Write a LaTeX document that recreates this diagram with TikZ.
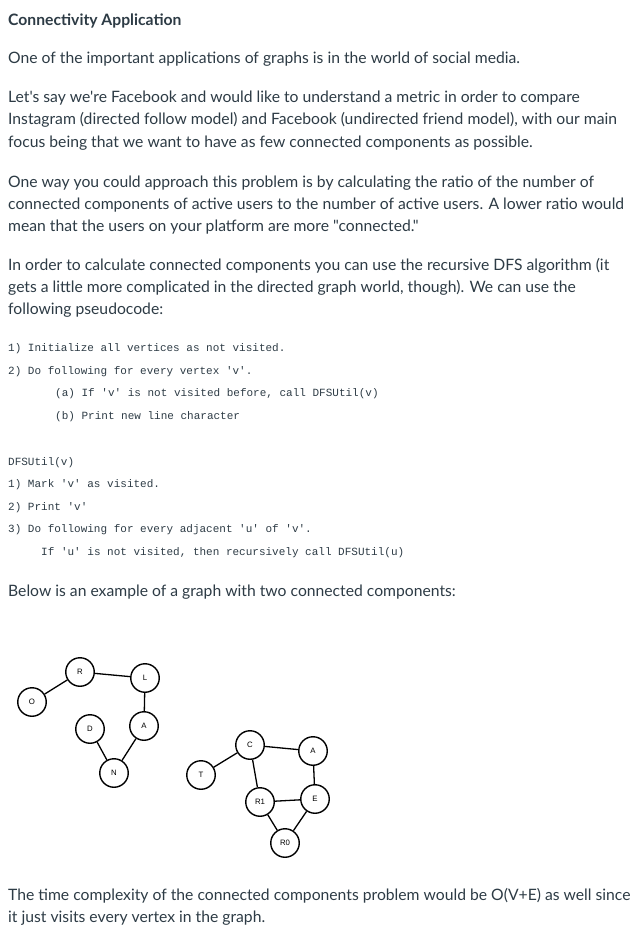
\documentclass[tikz,border=0pt]{standalone}
\usepackage{fontspec}
\setmainfont{Lato}[Ligatures=TeXOff]
\setmonofont{Liberation Mono}
\newfontfamily\vertexfont{Liberation Sans}
\definecolor{ink}{HTML}{2D3B45}

\begin{document}
\begin{tikzpicture}[x=1pt,y=-1pt,
  txt/.style={anchor=base west, inner sep=0pt, text=ink, font=\fontsize{15.7}{18}\selectfont},
  code/.style={anchor=base west, inner sep=0pt, text=ink, font=\ttfamily\fontsize{11}{13}\selectfont},
  vert/.style={draw, circle, line width=1.4pt, minimum size=28.5pt, inner sep=0pt, font=\vertexfont\fontsize{7.8}{9}\selectfont},
  link/.style={line width=1.3pt}]
  \useasboundingbox (0,0) rectangle (638,936);

  % text
  \node[txt, font=\bfseries\fontsize{15.7}{18}\selectfont] (title) at (8,26) {Connectivity Application};
  \node[txt] (p1) at (8,64) {One of the important applications of graphs is in the world of social media.};
  \node[txt] (p2a) at (8,103) {Let's say we're Facebook and would like to understand a metric in order to compare};
  \node[txt] (p2b) at (8,125) {Instagram (directed follow model) and Facebook (undirected friend model), with our main};
  \node[txt] (p2c) at (8,148) {focus being that we want to have as few connected components as possible.};
  \node[txt] (p3a) at (8,187) {One way you could approach this problem is by calculating the ratio of the number of};
  \node[txt] (p3b) at (8,209) {connected components of active users to the number of active users. A lower ratio would};
  \node[txt] (p3c) at (8,231) {mean that the users on your platform are more "connected."};
  \node[txt] (p4a) at (8,270) {In order to calculate connected components you can use the recursive DFS algorithm (it};
  \node[txt] (p4b) at (8,292) {gets a little more complicated in the directed graph world, though). We can use the};
  \node[txt] (p4c) at (8,314) {following pseudocode:};

  % pseudocode
  \node[code] (c1) at (8,351) {1) Initialize all vertices as not visited.};
  \node[code] (c2) at (8,374) {2) Do following for every vertex 'v'.};
  \node[code] (c3) at (55,396) {(a) If 'v' is not visited before, call DFSUtil(v)};
  \node[code] (c4) at (55,419) {(b) Print new line character};
  \node[code] (d0) at (8,465) {DFSUtil(v)};
  \node[code] (d1) at (8,487) {1) Mark 'v' as visited.};
  \node[code] (d2) at (8,510) {2) Print 'v'};
  \node[code] (d3) at (8,532) {3) Do following for every adjacent 'u' of 'v'.};
  \node[code] (d4) at (41,555) {If 'u' is not visited, then recursively call DFSUtil(u)};

  \node[txt] (p5) at (8,596) {Below is an example of a graph with two connected components:};

  % first component
  \node[vert] (R) at (80,672) {R};
  \node[vert] (L) at (145,678) {L};
  \node[vert] (O) at (32,702) {O};
  \node[vert] (D) at (90,729) {D};
  \node[vert] (A) at (144,726) {A};
  \node[vert] (N) at (114,773) {N};
  \draw[link] (O) -- (R);
  \draw[link] (R) -- (L);
  \draw[link] (L) -- (A);
  \draw[link] (A) -- (N);
  \draw[link] (D) -- (N);

  % second component
  \node[vert] (C) at (250,745) {C};
  \node[vert] (A2) at (313,751) {A};
  \node[vert] (T) at (201,775) {T};
  \node[vert] (R1) at (260,802) {R1};
  \node[vert] (E) at (315,799) {E};
  \node[vert] (R0) at (285,843) {R0};
  \draw[link] (T) -- (C);
  \draw[link] (C) -- (A2);
  \draw[link] (A2) -- (E);
  \draw[link] (C) -- (R1);
  \draw[link] (R1) -- (E);
  \draw[link] (R1) -- (R0);
  \draw[link] (E) -- (R0);

  \node[txt] (p6a) at (8,900) {The time complexity of the connected components problem would be O(V+E) as well since};
  \node[txt] (p6b) at (8,922) {it just visits every vertex in the graph.};
\end{tikzpicture}
\end{document}
